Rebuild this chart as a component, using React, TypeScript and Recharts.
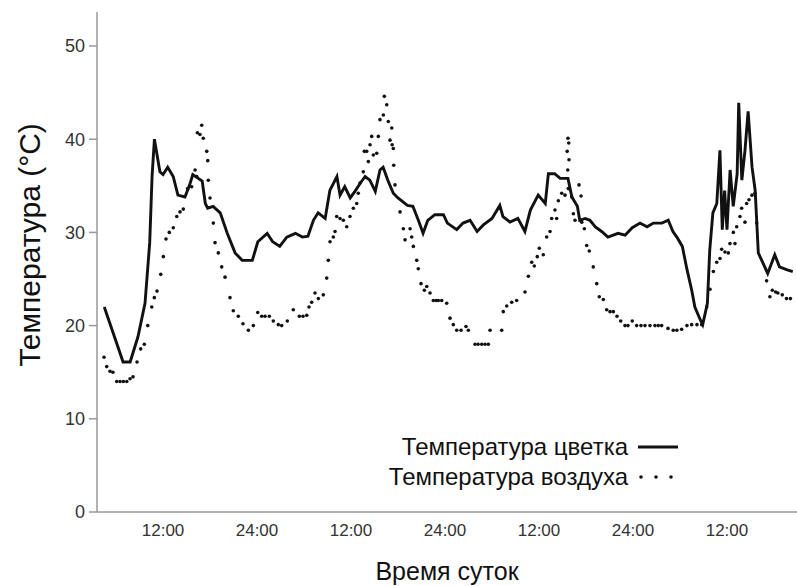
import React from 'react';
import { ComposedChart, Line, Scatter, XAxis, YAxis, Label } from 'recharts';

const flowerHours = [4.5, 6.9, 7.8, 8.8, 9.7, 10.3, 10.6, 10.9, 11.6, 12.0, 12.6, 13.3, 13.9, 14.8, 15.4, 15.8, 16.5, 17.0, 17.4, 17.7, 18.4, 19.3, 20.2, 21.2, 22.1, 23.4, 24.1, 25.3, 26.0, 26.9, 27.8, 28.9, 29.8, 30.5, 31.2, 31.8, 32.7, 33.3, 34.2, 34.6, 35.2, 35.9, 36.5, 37.2, 37.8, 38.4, 39.1, 39.7, 40.1, 40.7, 41.4, 42.0, 43.2, 43.9, 44.6, 45.2, 45.8, 46.7, 47.8, 48.3, 49.5, 50.3, 51.2, 52.1, 52.9, 54.0, 55.0, 55.4, 56.3, 57.3, 58.2, 58.9, 59.9, 60.8, 61.2, 62.0, 62.7, 63.7, 64.2, 64.9, 65.2, 65.9, 66.5, 67.2, 68.0, 68.8, 70.1, 71.0, 71.9, 72.9, 73.8, 74.6, 75.7, 76.5, 77.1, 77.6, 78.3, 78.9, 79.5, 79.9, 80.6, 80.9, 81.5, 81.8, 82.2, 82.7, 83.1, 83.4, 83.7, 84.0, 84.4, 84.8, 85.3, 85.5, 85.9, 86.3, 86.7, 87.2, 87.6, 88.0, 88.6, 89.2, 90.1, 90.7, 91.6, 92.4];
const flowerTemp = [22.0, 16.1, 16.1, 18.8, 22.4, 28.9, 36.0, 40.0, 36.5, 36.2, 37.0, 36.0, 34.0, 33.8, 35.1, 36.2, 35.8, 35.5, 33.1, 32.6, 32.8, 32.1, 29.9, 27.8, 27.0, 27.0, 29.0, 29.9, 29.0, 28.5, 29.5, 29.9, 29.5, 29.6, 31.3, 32.1, 31.5, 34.5, 36.0, 34.0, 34.9, 33.7, 34.4, 35.3, 36.0, 35.6, 34.4, 36.7, 37.0, 35.6, 34.2, 33.7, 32.9, 32.8, 31.3, 29.9, 31.3, 31.9, 31.9, 31.0, 30.3, 31.0, 31.3, 30.1, 30.8, 31.5, 32.9, 31.7, 31.1, 31.5, 30.1, 32.4, 34.0, 33.1, 36.3, 36.3, 35.8, 35.8, 33.8, 32.8, 31.3, 31.5, 31.3, 30.6, 30.1, 29.5, 29.9, 29.7, 30.5, 31.0, 30.6, 31.0, 31.0, 31.3, 30.1, 29.5, 28.5, 26.0, 23.8, 22.0, 20.6, 20.1, 22.4, 28.1, 32.1, 33.1, 38.8, 30.3, 34.5, 30.3, 36.7, 32.8, 36.3, 43.9, 35.6, 38.8, 43.0, 37.0, 34.5, 27.8, 26.7, 25.6, 27.6, 26.3, 26.0, 25.8];

const airHours = [4.47, 4.81, 5.23, 5.6, 6.09, 6.51, 6.93, 7.37, 7.79, 8.17, 8.68, 9.15, 9.61, 10.05, 10.56, 10.89, 11.23, 11.71, 12.04, 12.38, 12.8, 13.31, 13.75, 14.17, 14.59, 15.15, 15.66, 16.09, 16.3, 16.38, 16.72, 16.94, 17.14, 17.58, 17.71, 17.78, 18.0, 18.42, 18.64, 19.06, 19.49, 19.92, 20.55, 20.97, 21.61, 22.21, 22.89, 23.53, 24.09, 24.6, 25.02, 25.57, 26.08, 26.72, 27.15, 27.87, 28.63, 29.4, 29.87, 30.35, 30.64, 30.98, 31.4, 31.83, 32.46, 32.9, 33.1, 33.32, 33.74, 33.96, 34.17, 34.6, 35.02, 35.45, 35.87, 36.3, 36.73, 36.93, 37.15, 37.57, 37.7, 38.0, 38.21, 38.43, 38.64, 38.85, 39.28, 39.49, 39.7, 40.13, 40.25, 40.56, 40.76, 40.98, 41.2, 41.25, 41.4, 41.45, 41.62, 42.26, 42.68, 42.9, 43.54, 43.75, 43.96, 44.39, 44.59, 44.94, 45.36, 45.67, 46.09, 46.51, 46.86, 47.15, 47.58, 48.22, 48.64, 49.06, 49.5, 50.05, 50.68, 50.98, 51.83, 52.22, 52.69, 53.11, 53.53, 53.75, 55.24, 55.44, 55.88, 56.52, 57.15, 58.21, 58.64, 59.07, 59.4, 59.78, 60.04, 60.55, 60.98, 61.41, 61.62, 62.04, 62.26, 62.47, 62.9, 63.32, 63.6, 63.67, 63.7, 63.74, 63.8, 63.83, 64.18, 64.39, 64.6, 65.11, 65.37, 65.46, 65.79, 66.09, 66.42, 66.93, 67.37, 67.7, 68.21, 68.64, 69.07, 69.49, 69.96, 70.43, 70.98, 71.36, 71.91, 72.47, 73.02, 73.53, 74.17, 74.81, 75.23, 75.66, 76.47, 77.14, 77.6, 78.21, 78.89, 79.49, 80.17, 80.77, 81.41, 81.83, 82.26, 82.69, 83.11, 83.32, 83.74, 84.17, 84.38, 84.81, 85.02, 85.24, 85.66, 85.87, 86.3, 86.51, 86.81, 87.19, 87.57, 87.79, 89.06, 89.48, 89.79, 90.21, 90.5, 91.06, 91.6, 92.1];
const airTemp = [16.6, 15.6, 15.1, 15.0, 14.0, 14.0, 14.0, 14.0, 14.3, 14.5, 16.1, 17.5, 18.0, 20.0, 22.0, 23.0, 23.7, 25.5, 27.4, 29.3, 30.0, 30.5, 31.7, 32.2, 32.5, 34.7, 34.9, 36.7, 36.0, 40.7, 40.5, 41.5, 40.1, 38.7, 37.7, 35.6, 33.7, 31.0, 28.9, 27.8, 26.3, 25.2, 23.0, 21.6, 21.0, 20.2, 19.5, 20.0, 21.4, 21.0, 21.0, 21.0, 20.5, 20.1, 20.0, 20.5, 21.7, 21.0, 21.0, 21.1, 22.0, 22.5, 23.5, 22.9, 23.3, 25.1, 27.0, 29.0, 29.5, 30.1, 31.7, 31.5, 31.3, 30.6, 31.7, 32.6, 33.1, 34.2, 35.3, 36.5, 38.7, 38.7, 37.6, 39.4, 40.3, 38.3, 38.5, 40.3, 42.1, 42.6, 44.6, 43.7, 41.9, 39.9, 41.2, 39.4, 39.0, 37.2, 35.1, 32.2, 30.4, 29.2, 30.4, 29.5, 28.5, 27.0, 26.1, 24.5, 23.8, 24.2, 23.5, 22.7, 22.7, 22.7, 22.7, 22.4, 20.8, 20.1, 19.5, 19.5, 19.9, 19.5, 18.0, 18.0, 18.0, 18.0, 18.0, 19.5, 19.5, 21.5, 22.1, 22.5, 22.7, 23.6, 25.3, 26.8, 26.4, 27.4, 28.3, 27.6, 29.5, 30.1, 31.5, 32.4, 31.5, 33.4, 34.2, 34.0, 38.7, 36.7, 40.1, 34.7, 39.6, 37.8, 33.8, 32.0, 31.3, 35.1, 33.9, 31.1, 30.4, 28.6, 28.0, 26.3, 24.5, 23.1, 22.8, 21.7, 21.5, 21.5, 21.0, 20.5, 20.0, 20.0, 20.5, 20.0, 20.0, 20.0, 20.0, 20.0, 20.0, 20.0, 19.7, 19.5, 19.5, 19.6, 20.0, 20.1, 20.1, 20.1, 22.0, 23.9, 25.8, 26.8, 27.2, 28.2, 27.9, 27.8, 28.8, 30.0, 28.8, 30.6, 31.7, 32.6, 31.1, 33.1, 33.5, 34.0, 34.2, 31.0, 24.8, 23.1, 23.8, 23.6, 23.5, 23.3, 22.9, 22.9];

const xTicks = [12, 24, 36, 48, 60, 72, 84];
const xTickLabels = ['12:00', '24:00', '12:00', '24:00', '12:00', '24:00', '12:00'];
const yTicks = [0, 10, 20, 30, 40, 50];

const flowerName = 'Температура цветка';
const airName = 'Температура воздуха';

const flowerData = flowerHours.map((h, i) => ({ h, t: flowerTemp[i] }));
const airData = airHours.map((h, i) => ({ h, t: airTemp[i] }));

const FONT = 'Liberation Sans, Arial, sans-serif';

const Dot = (p: any) => <circle cx={p.cx} cy={p.cy} r={1.8} fill="#111" />;

const legendText: React.CSSProperties = {
  position: 'absolute',
  right: 797 - 628,
  fontFamily: FONT,
  fontSize: 24,
  lineHeight: '30px',
  color: '#111',
  whiteSpace: 'nowrap',
};

export default function App() {
  return (
    <div style={{ position: 'absolute', left: 0, top: 0, width: 797, height: 586, background: '#fff' }}>
      <ComposedChart width={797} height={586} margin={{ top: 12, right: 0, bottom: 0, left: 0 }}>
        <XAxis
          dataKey="h"
          type="number"
          domain={[3.57, 92.94]}
          ticks={xTicks}
          tickFormatter={(v: number) => xTickLabels[xTicks.indexOf(v)]}
          tickLine={false}
          axisLine={{ stroke: '#999', strokeWidth: 1.5 }}
          tick={{ fill: '#333', fontSize: 17, fontFamily: FONT }}
          tickMargin={6}
          height={74}
          allowDataOverflow
        >
          <Label
            value="Время суток"
            position="insideBottom"
            offset={6}
            style={{ fill: '#111', fontSize: 25, fontFamily: FONT }}
          />
        </XAxis>
        <YAxis
          type="number"
          domain={[0, 53.65]}
          ticks={yTicks}
          tickSize={8}
          tickLine={{ stroke: '#999', strokeWidth: 1.5 }}
          axisLine={{ stroke: '#999', strokeWidth: 1.5 }}
          tick={{ fill: '#333', fontSize: 18, fontFamily: FONT }}
          tickMargin={4}
          width={97}
          allowDataOverflow
        >
          <Label
            content={() => (
              <text
                x={29}
                y={245}
                transform="rotate(-90 29 245)"
                textAnchor="middle"
                dominantBaseline="central"
                style={{ fill: '#111', fontSize: 30, fontFamily: FONT }}
              >
                Температура (°C)
              </text>
            )}
          />
        </YAxis>
        <Line
          data={flowerData}
          dataKey="t"
          type="linear"
          stroke="#111"
          strokeWidth={2.9}
          dot={false}
          isAnimationActive={false}
          name={flowerName}
        />
        <Scatter
          data={airData}
          dataKey="t"
          shape={Dot}
          isAnimationActive={false}
          name={airName}
        />
      </ComposedChart>
      <span style={{ ...legendText, top: 432 }}>{flowerName}</span>
      <span style={{ ...legendText, top: 462 }}>{airName}</span>
      <svg width={50} height={60} style={{ position: 'absolute', left: 634, top: 432 }}>
        <line x1={4} y1={15} x2={44} y2={15} stroke="#111" strokeWidth={2.9} />
        <circle cx={7} cy={45} r={1.8} fill="#111" />
        <circle cx={22} cy={45} r={1.8} fill="#111" />
        <circle cx={37} cy={45} r={1.8} fill="#111" />
      </svg>
    </div>
  );
}
